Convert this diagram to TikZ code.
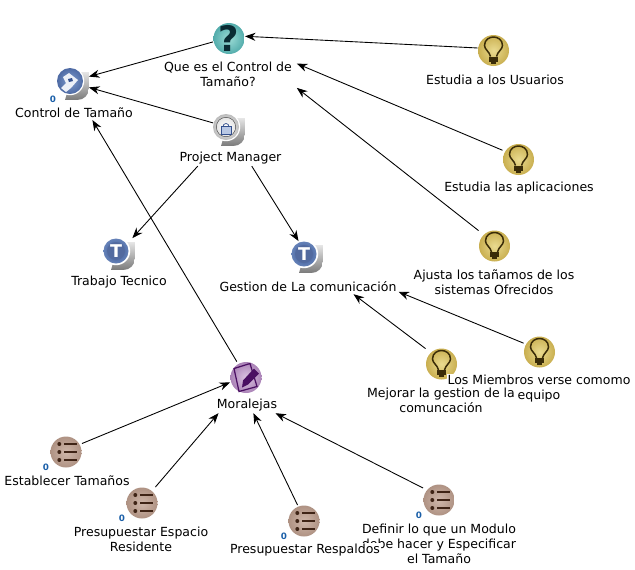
\documentclass[tikz,border=0pt]{standalone}
\usepackage{fontspec}
\setmainfont{DejaVu Sans}
\usetikzlibrary{arrows.meta}
\definecolor{bulbIn}{HTML}{EADB90}
\definecolor{bulbOut}{HTML}{B8982F}
\definecolor{bulbInk}{HTML}{3A2C08}
\definecolor{listIn}{HTML}{CFB7AA}
\definecolor{listOut}{HTML}{9E7F6F}
\definecolor{listInk}{HTML}{3F2416}
\definecolor{noteIn}{HTML}{DCC4E2}
\definecolor{noteOut}{HTML}{9060A0}
\definecolor{noteInk}{HTML}{4A0F62}
\definecolor{askIn}{HTML}{9CDCD6}
\definecolor{askOut}{HTML}{2E9496}
\definecolor{askInk}{HTML}{0A2C34}
\definecolor{blueIn}{HTML}{7F9CCE}
\definecolor{blueOut}{HTML}{34508E}
\definecolor{numInk}{HTML}{1A5FA8}
\pgfdeclareradialshading[discIn,discOut]{softdisc}{\pgfpoint{0bp}{0bp}}{color(0bp)=(discIn); color(38bp)=(discOut); color(50bp)=(discOut)}
\newcommand{\softdisc}[4]{%
  \colorlet{discIn}{#1}\colorlet{discOut}{#2}%
  \shade[shading=softdisc] (#3) circle (#4);
}
\newcommand{\curlback}{%
  \shade[top color=black!10,bottom color=black!52]
    (0,-12) -- (16,-12) -- (16,4) .. controls (16,11) and (11,16) .. (4,16) -- (-8,16) -- cycle;
  \fill[white] (-3,-3) circle (14.2);
}
\newcommand{\bulbglyph}{%
  \begin{scope}[shift={(path picture bounding box.center)}]
    \softdisc{bulbIn}{bulbOut}{0,0}{15.5}
    \draw[bulbInk,line width=.85pt] (-3,6) .. controls (-4,1) and (-9,-1) .. (-9,-5)
      .. controls (-9,-11) and (-4,-13.5) .. (0,-13.5)
      .. controls (4,-13.5) and (9,-11) .. (9,-5) .. controls (9,-1) and (4,1) .. (3,6);
    \fill[bulbInk] (-4.5,6) rectangle (4.5,11);
    \fill[bulbInk] (-2.5,11) rectangle (2.5,13);
  \end{scope}
}
\newcommand{\listglyph}{%
  \begin{scope}[shift={(path picture bounding box.center)}]
    \softdisc{listIn}{listOut}{0,0}{15.5}
    \foreach \y in {-8,0,8} {
      \fill[listInk] (-6.7,\y) circle (2);
      \fill[listInk] (-2,\y-1.4) rectangle (10.7,\y+1.4);
    }
  \end{scope}
}
\newcommand{\noteglyph}{%
  \begin{scope}[shift={(path picture bounding box.center)}]
    \softdisc{noteIn}{noteOut}{0,0}{15.5}
    \draw[noteInk,line width=.7pt] (-12,-9) -- (4,-14) -- (11,9) -- (-7,14) -- cycle;
    \fill[noteInk] (-4,10) -- (-3,3) -- (8,-9) -- (13,-4) -- (2,7) -- cycle;
  \end{scope}
}
\newcommand{\askglyph}{%
  \begin{scope}[shift={(path picture bounding box.center)}]
    \softdisc{askIn}{askOut}{0,0}{15.5}
    \node[askInk,inner sep=0pt,font=\fontsize{20}{20}\bfseries\selectfont] at (0,0) {?};
  \end{scope}
}
\newcommand{\flowglyph}{%
  \begin{scope}[shift={(path picture bounding box.center)}]
    \curlback
    \softdisc{blueIn}{blueOut}{-3,-3}{13}
    \fill[white!85!blueIn] (-10,-7) -- (-4,-11) -- (5,-4) -- (-2,4) -- (-7,8) -- (-12,4) -- (-7,-1) -- cycle;
    \fill[blueOut] (-5,-5) -- (-1,-6) -- (0,-3) -- (-4,-2) -- cycle;
  \end{scope}
}
\newcommand{\userglyph}{%
  \begin{scope}[shift={(path picture bounding box.center)}]
    \curlback
    \softdisc{white}{black!40}{-3,-3}{13}
    \fill[black!65] (-3,-3) circle (10);
    \softdisc{white}{black!15}{-3,-3}{9.3}
    \draw[blueOut,line width=.4pt] (-6,-3.5) arc[start angle=180,end angle=360,radius=3];
    \fill[blueIn!55!white,draw=blueOut,line width=.4pt] (-8,-3.5) rectangle (2,4);
  \end{scope}
}
\newcommand{\taskglyph}{%
  \begin{scope}[shift={(path picture bounding box.center)}]
    \curlback
    \softdisc{blueOut}{blueIn}{-3,-3}{12.5}
    \fill[blueOut!85!white] (-3,-3) circle (9);
    \node[white,inner sep=0pt,font=\fontsize{10}{10}\bfseries\selectfont] at (-3,-3) {T};
  \end{scope}
}
\tikzset{
  icon/.style={rectangle,minimum size=32*0.5669pt,inner sep=0pt,outer sep=0pt},
  bulb/.style={icon,path picture={\bulbglyph}},
  listing/.style={icon,path picture={\listglyph}},
  note/.style={icon,path picture={\noteglyph}},
  ask/.style={icon,path picture={\askglyph}},
  flow/.style={icon,path picture={\flowglyph}},
  user/.style={icon,path picture={\userglyph}},
  task/.style={icon,path picture={\taskglyph}},
  lab/.style={fill=white,align=center,inner sep=.4pt,outer sep=.8pt,
    font=\fontsize{7.13}{8.5}\selectfont},
  num/.style={numInk,inner sep=0pt,font=\fontsize{5}{5}\bfseries\selectfont},
  conn/.style={black,line width=.5pt,-{Stealth[length=6pt,width=4.6pt]}}
}
\begin{document}
\begin{tikzpicture}[x=0.02cm,y=-0.02cm]
  \useasboundingbox (0,0) rectangle (635,569);
  % icons
  \node[flow] (ctrl) at (73,84) {};
  \node[ask] (que) at (229,38.5) {};
  \node[user] (pm) at (229,130) {};
  \node[task] (trab) at (119,254) {};
  \node[task] (gest) at (307,257) {};
  \node[bulb] (usu) at (493.5,50.5) {};
  \node[bulb] (apl) at (518.5,159.5) {};
  \node[bulb] (aju) at (494.5,246) {};
  \node[bulb] (mej) at (441.5,364) {};
  \node[bulb] (mie) at (539.5,352) {};
  \node[note] (mor) at (246,377.5) {};
  \node[listing] (est) at (66,452) {};
  \node[listing] (esp) at (142,503) {};
  \node[listing] (res) at (304,521) {};
  \node[listing] (def) at (439,500) {};
  % labels
  \node[lab] (ctrlLab) at (74,113) {Control de Tamaño};
  \node[lab,inner xsep=2pt] (queLab) at (228,74.5) {Que es el Control de\\Tamaño?};
  \node[lab] (pmLab) at (230.5,158) {Project Manager};
  \node[lab] (trabLab) at (119,282) {Trabajo Tecnico};
  \node[lab] (gestLab) at (308,287) {Gestion de La comunicación};
  \node[lab] (usuLab) at (495,80) {Estudia a los Usuarios};
  \node[lab] (aplLab) at (519,188) {Estudia las aplicaciones};
  \node[lab] (ajuLab) at (494,282.5) {Ajusta los tañamos de los\\sistemas Ofrecidos};
  \node[lab] (mieLab) at (539,388.5) {Los Miembros verse comomo\\equipo};
  \node[lab] (mejLab) at (441,400.5) {Mejorar la gestion de la\\comuncación};
  \node[lab] (morLab) at (247,405) {Moralejas};
  \node[lab] (estLab) at (67,481) {Establecer Tamaños};
  \node[lab] (espLab) at (141,539.5) {Presupuestar Espacio\\Residente};
  \node[lab] (defLab) at (439,544) {Definir lo que un Modulo\\debe hacer y Especificar\\el Tamaño};
  \node[lab] (resLab) at (305,550) {Presupuestar Respaldos};
  % counters
  \node[num] (ctrlNum) at (53,99) {0};
  \node[num] (estNum) at (46,467) {0};
  \node[num] (espNum) at (122,518) {0};
  \node[num] (resNum) at (284,536) {0};
  \node[num] (defNum) at (419,515) {0};
  % connectors
  \draw[conn] (que.192) -- (ctrl.25);
  \draw[conn] (pm.156) -- (ctrl.-12);
  \draw[conn] (usu.171) -- (que.8);
  \draw[conn] (apl.150) -- (queLab.9);
  \draw[conn] (aju.136) -- (queLab.-11);
  \draw[conn] (pmLab.194) -- (trab.50);
  \draw[conn] (pmLab.-21) -- (gest.118);
  \draw[conn] (mor.120) -- (ctrlLab.-21);
  \draw[conn] (mej.136) -- (gestLab.-9);
  \draw[conn] (mie.151) -- (gestLab.-3);
  \draw[conn] (est.28) -- (mor.197);
  \draw[conn] (esp.50) -- (morLab.196);
  \draw[conn] (res.112) -- (morLab.-52);
  \draw[conn] (def.143) -- (morLab.-16);
\end{tikzpicture}
\end{document}
